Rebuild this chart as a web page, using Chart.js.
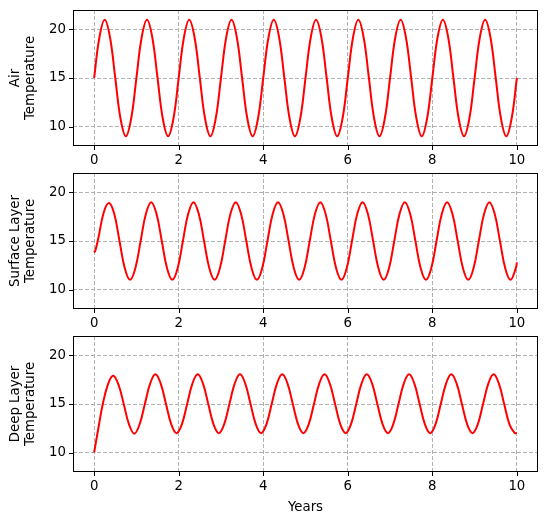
<!DOCTYPE html>
<html>
<head>
<meta charset="utf-8">
<script src="https://cdn.jsdelivr.net/npm/chart.js@4.4.1/dist/chart.umd.min.js"></script>
<style>
  html, body { margin: 0; padding: 0; background: #fff; }
  #wrap { position: relative; width: 548px; height: 525px; }
  canvas { position: absolute; left: 0; }
</style>
</head>
<body>
<div id="wrap">
  <canvas id="air" width="548" height="173" style="top:0px"></canvas>
  <canvas id="surface" width="548" height="173" style="top:163px"></canvas>
  <canvas id="deep" width="548" height="199" style="top:326px"></canvas>
</div>
<script>
// values
const airYears = [
  0, 0.125, 0.25, 0.375, 0.5, 0.625, 0.75, 0.875,
  1, 1.125, 1.25, 1.375, 1.5, 1.625, 1.75, 1.875,
  2, 2.125, 2.25, 2.375, 2.5, 2.625, 2.75, 2.875,
  3, 3.125, 3.25, 3.375, 3.5, 3.625, 3.75, 3.875,
  4, 4.125, 4.25, 4.375, 4.5, 4.625, 4.75, 4.875,
  5, 5.125, 5.25, 5.375, 5.5, 5.625, 5.75, 5.875,
  6, 6.125, 6.25, 6.375, 6.5, 6.625, 6.75, 6.875,
  7, 7.125, 7.25, 7.375, 7.5, 7.625, 7.75, 7.875,
  8, 8.125, 8.25, 8.375, 8.5, 8.625, 8.75, 8.875,
  9, 9.125, 9.25, 9.375, 9.5, 9.625, 9.75, 9.875,
  10
];
const airTemp = [
  15, 19.2, 21, 19.2, 15, 10.8, 9, 10.8,
  15, 19.2, 21, 19.2, 15, 10.8, 9, 10.8,
  15, 19.2, 21, 19.2, 15, 10.8, 9, 10.8,
  15, 19.2, 21, 19.2, 15, 10.8, 9, 10.8,
  15, 19.2, 21, 19.2, 15, 10.8, 9, 10.8,
  15, 19.2, 21, 19.2, 15, 10.8, 9, 10.8,
  15, 19.2, 21, 19.2, 15, 10.8, 9, 10.8,
  15, 19.2, 21, 19.2, 15, 10.8, 9, 10.8,
  15, 19.2, 21, 19.2, 15, 10.8, 9, 10.8,
  15, 19.2, 21, 19.2, 15, 10.8, 9, 10.8,
  15
];

const surfaceYears = [
  0, 0.02,
  0.1, 0.225, 0.35, 0.475, 0.6, 0.725, 0.85, 0.975,
  1.1, 1.225, 1.35, 1.475, 1.6, 1.725, 1.85, 1.975,
  2.1, 2.225, 2.35, 2.475, 2.6, 2.725, 2.85, 2.975,
  3.1, 3.225, 3.35, 3.475, 3.6, 3.725, 3.85, 3.975,
  4.1, 4.225, 4.35, 4.475, 4.6, 4.725, 4.85, 4.975,
  5.1, 5.225, 5.35, 5.475, 5.6, 5.725, 5.85, 5.975,
  6.1, 6.225, 6.35, 6.475, 6.6, 6.725, 6.85, 6.975,
  7.1, 7.225, 7.35, 7.475, 7.6, 7.725, 7.85, 7.975,
  8.1, 8.225, 8.35, 8.475, 8.6, 8.725, 8.85, 8.975,
  9.1, 9.225, 9.35, 9.475, 9.6, 9.725, 9.85, 9.975,
  10
];
const surfaceTemp = [
  14.0, 13.9,
  15.3, 17.9, 18.9, 17.8, 15.0, 12.2, 11.0, 12.2,
  15, 17.8, 19, 17.8, 15, 12.2, 11, 12.2,
  15, 17.8, 19, 17.8, 15, 12.2, 11, 12.2,
  15, 17.8, 19, 17.8, 15, 12.2, 11, 12.2,
  15, 17.8, 19, 17.8, 15, 12.2, 11, 12.2,
  15, 17.8, 19, 17.8, 15, 12.2, 11, 12.2,
  15, 17.8, 19, 17.8, 15, 12.2, 11, 12.2,
  15, 17.8, 19, 17.8, 15, 12.2, 11, 12.2,
  15, 17.8, 19, 17.8, 15, 12.2, 11, 12.2,
  15, 17.8, 19, 17.8, 15, 12.2, 11, 12.2,
  12.8
];

const deepYears = [
  0, 0.1,
  0.2, 0.325, 0.45, 0.575, 0.7, 0.825, 0.95, 1.075,
  1.2, 1.325, 1.45, 1.575, 1.7, 1.825, 1.95, 2.075,
  2.2, 2.325, 2.45, 2.575, 2.7, 2.825, 2.95, 3.075,
  3.2, 3.325, 3.45, 3.575, 3.7, 3.825, 3.95, 4.075,
  4.2, 4.325, 4.45, 4.575, 4.7, 4.825, 4.95, 5.075,
  5.2, 5.325, 5.45, 5.575, 5.7, 5.825, 5.95, 6.075,
  6.2, 6.325, 6.45, 6.575, 6.7, 6.825, 6.95, 7.075,
  7.2, 7.325, 7.45, 7.575, 7.7, 7.825, 7.95, 8.075,
  8.2, 8.325, 8.45, 8.575, 8.7, 8.825, 8.95, 9.075,
  9.2, 9.325, 9.45, 9.575, 9.7, 9.825, 9.95,
  10
];
const deepTemp = [
  10, 12.5,
  14.9, 17.0, 17.9, 17.0, 15.0, 12.9, 11.95, 12.9,
  15, 17.1, 18.05, 17.1, 15, 12.9, 12, 12.9,
  15, 17.1, 18.05, 17.1, 15, 12.9, 12, 12.9,
  15, 17.1, 18.05, 17.1, 15, 12.9, 12, 12.9,
  15, 17.1, 18.05, 17.1, 15, 12.9, 12, 12.9,
  15, 17.1, 18.05, 17.1, 15, 12.9, 12, 12.9,
  15, 17.1, 18.05, 17.1, 15, 12.9, 12, 12.9,
  15, 17.1, 18.05, 17.1, 15, 12.9, 12, 12.9,
  15, 17.1, 18.05, 17.1, 15, 12.9, 12, 12.9,
  15, 17.1, 18.05, 17.1, 15, 12.9, 12,
  12.05
];

const xTicks = [0, 2, 4, 6, 8, 10];
const yTicks = [10, 15, 20];

Chart.defaults.color = "#000";
Chart.defaults.font.family = "'DejaVu Sans', sans-serif";
Chart.defaults.font.size = 13.3;

// black box round the plot plus the little outward tick marks
const frame = {
  id: "frame",
  afterDraw(chart) {
    const { ctx, chartArea: a, scales } = chart;
    ctx.save();
    ctx.strokeStyle = "#000";
    ctx.lineWidth = 1;
    ctx.setLineDash([]);
    ctx.strokeRect(a.left + 0.5, a.top + 0.5, a.right - a.left - 1, a.bottom - a.top - 1);
    ctx.beginPath();
    xTicks.forEach((v) => {
      const x = Math.round(scales.x.getPixelForValue(v)) + 0.5;
      ctx.moveTo(x, a.bottom);
      ctx.lineTo(x, a.bottom + 4);
    });
    yTicks.forEach((v) => {
      const y = Math.round(scales.y.getPixelForValue(v)) + 0.5;
      ctx.moveTo(a.left - 4, y);
      ctx.lineTo(a.left, y);
    });
    ctx.stroke();
    ctx.restore();
  },
};

function makeChart(id, years, temps, yTitle, xTitle) {
  const xHeight = xTitle ? 53 : 27;
  return new Chart(document.getElementById(id), {
    type: "line",
    data: {
      datasets: [
        {
          data: years.map((t, i) => ({ x: t, y: temps[i] })),
          borderColor: "#ff0000",
          borderWidth: 2,
          pointRadius: 0,
          tension: 0.4,
          fill: false,
        },
      ],
    },
    options: {
      responsive: false,
      animation: false,
      layout: { padding: { top: 10, right: 10, left: 0, bottom: 0 } },
      plugins: { legend: { display: false }, tooltip: { enabled: false } },
      scales: {
        x: {
          type: "linear",
          min: -0.5,
          max: 10.5,
          afterBuildTicks: (s) => { s.ticks = xTicks.map((v) => ({ value: v })); },
          afterFit: (s) => { s.height = xHeight; },
          ticks: { padding: 7, maxRotation: 0 },
          grid: { color: "#b0b0b0", lineWidth: 1, drawTicks: false },
          border: { display: false, dash: [4, 2] },
          title: {
            display: !!xTitle,
            text: xTitle || "",
            padding: { top: 0, bottom: 10 },
            font: { lineHeight: 1.125 },
          },
        },
        y: {
          min: 8,
          max: 22,
          afterBuildTicks: (s) => { s.ticks = yTicks.map((v) => ({ value: v })); },
          afterFit: (s) => {
            s.width = 73;
            s.paddingTop = 0;
            s.paddingBottom = 0;
          },
          ticks: { padding: 7 },
          grid: { color: "#b0b0b0", lineWidth: 1, drawTicks: false },
          border: { display: false, dash: [4, 2] },
          title: {
            display: true,
            text: yTitle,
            padding: { top: 8, bottom: 0 },
            font: { lineHeight: 1.125 },
          },
        },
      },
    },
    plugins: [frame],
  });
}

makeChart("air", airYears, airTemp, ["Air", "Temperature"]);
makeChart("surface", surfaceYears, surfaceTemp, ["Surface Layer", "Temperature"]);
makeChart("deep", deepYears, deepTemp, ["Deep Layer", "Temperature"], "Years");
</script>
</body>
</html>
